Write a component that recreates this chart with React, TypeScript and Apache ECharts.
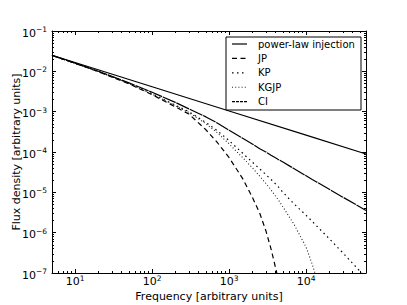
import React, { useEffect, useRef } from 'react';
import * as echarts from 'echarts';

// Frequencies [arbitrary units] at which the model curves were read
const frequency = [5, 10, 20, 50, 100, 200, 300, 500, 700, 1000, 1500, 2000, 2500, 3000, 3500, 4000, 4300, 5000, 7000, 10000, 12000, 13500, 20000, 30000, 45000, 60000];

// Power-law injection (straight line)
const powerLawFreq = [5, 100, 1000, 10000, 60000];
const powerLaw = [2.5e-2, 4.14e-3, 1.04e-3, 2.61e-4, 8.93e-5];

// Model flux densities [arbitrary units]
const jp = [2.48e-2, 1.585e-2, 9.77e-3, 4.9e-3, 2.63e-3, 1.32e-3, 8.71e-4, 3.55e-4, 1.74e-4, 7.24e-5, 2.19e-5, 7.59e-6, 3.02e-6, 1.12e-6, 3.98e-7, 1.38e-7, 7.59e-8, null, null, null, null, null, null, null, null, null];
const kp = [2.48e-2, 1.585e-2, 9.93e-3, 5.07e-3, 2.79e-3, 1.45e-3, 1.0e-3, 5.37e-4, 3.39e-4, 1.91e-4, 9.33e-5, 5.62e-5, 3.8e-5, 2.75e-5, 2.09e-5, 1.62e-5, 1.41e-5, 1.0e-5, 5.13e-6, 2.69e-6, 1.91e-6, 1.51e-6, 7.08e-7, 3.16e-7, 1.38e-7, 7.59e-8];
const kgjp = [2.48e-2, 1.585e-2, 9.89e-3, 5.01e-3, 2.72e-3, 1.41e-3, 9.55e-4, 5.01e-4, 3.02e-4, 1.585e-4, 7.24e-5, 4.07e-5, 2.51e-5, 1.66e-5, 1.15e-5, 8.13e-6, 6.76e-6, 4.37e-6, 1.585e-6, 4.37e-7, 1.66e-7, 7.94e-8, null, null, null, null];
const ci = [2.483e-2, 1.596e-2, 1.005e-2, 5.19e-3, 3.02e-3, 1.7e-3, 1.175e-3, 7.41e-4, 5.25e-4, 3.47e-4, 2.19e-4, 1.585e-4, 1.2e-4, 1.0e-4, 8.32e-5, 7.16e-5, 6.61e-5, 5.62e-5, 3.85e-5, 2.57e-5, 2.09e-5, 1.84e-5, 1.19e-5, 7.59e-6, 4.9e-6, 3.56e-6];

// Axis ranges and tick labels (decade exponents)
const xRange = [5, 60000];
const yRange = [1e-7, 1e-1];
const xTickExponents = [1, 2, 3, 4];
const yTickExponents = [-7, -6, -5, -4, -3, -2, -1];

const legendNames = ['power-law injection', 'JP', 'KP', 'KGJP', 'CI'];

const FONT = 'DejaVu Sans';
const LW = 1.2;
const styles: Record<string, { type: any; color: string; width: number }> = {
  'power-law injection': { type: 'solid', color: '#000', width: LW },
  JP: { type: [5, 3.5], color: '#000', width: LW },
  KP: { type: [1.5, 3.5], color: '#000', width: LW },
  KGJP: { type: [1, 2.2], color: '#222', width: 1.1 },
  CI: { type: [14, 0.8], color: '#000', width: LW },
};
const ciLegendDash = [3, 1];

function minorTicks(lo: number, hi: number) {
  const out: number[] = [];
  for (let n = -8; n <= 5; n++) {
    for (let k = 2; k <= 9; k++) {
      const v = k * Math.pow(10, n);
      if (v >= lo && v <= hi) out.push(Math.log10(v));
    }
  }
  return out;
}

function toPairs(xs: number[], ys: (number | null)[]) {
  const out: number[][] = [];
  xs.forEach((f, i) => {
    const v = ys[i];
    if (v != null) out.push([Math.log10(f), Math.log10(v)]);
  });
  return out;
}

function supLabel(v: number) {
  const e = Math.round(v);
  const s = e < 0 ? '\u2212' + -e : String(e);
  return '{b|10}{s|' + s + '}';
}

const rich = {
  b: { fontSize: 11, fontFamily: FONT, color: '#000', lineHeight: 11, padding: [4, 0, 0, 0] },
  s: { fontSize: 7.5, fontFamily: FONT, color: '#000', lineHeight: 8, verticalAlign: 'top' },
};

function buildOption() {
  const xmin = Math.log10(xRange[0]);
  const xmax = Math.log10(xRange[1]);
  const ymin = Math.log10(yRange[0]);
  const ymax = Math.log10(yRange[1]);
  const xMinor = minorTicks(xRange[0], xRange[1]);
  const yMinor = minorTicks(yRange[0], yRange[1]);

  const mkAxis = (position: string, min: number, max: number, ticks: number[], len: number, showLine: boolean, label?: any, name?: any) => ({
    type: 'value',
    position,
    min,
    max,
    splitLine: { show: false },
    axisLine: { show: showLine, onZero: false, lineStyle: { color: '#000', width: 1 } },
    axisTick: { show: true, inside: true, length: len, customValues: ticks, lineStyle: { color: '#000', width: 1 } },
    axisLabel: label || { show: false },
    ...(name || {}),
  });

  const xLabel = {
    show: true,
    customValues: xTickExponents,
    formatter: supLabel,
    rich,
    margin: 1,
  };
  const yLabel = {
    show: true,
    customValues: yTickExponents,
    formatter: supLabel,
    rich,
    margin: 5,
  };

  const xName = {
    name: 'Frequency [arbitrary units]',
    nameLocation: 'middle',
    nameGap: 18,
    nameMoveOverlap: false,
    nameTextStyle: { fontFamily: FONT, fontSize: 11, color: '#000', verticalAlign: 'top' },
  };
  const yName = {
    name: 'Flux density [arbitrary units]',
    nameLocation: 'middle',
    nameGap: 30,
    nameMoveOverlap: false,
    nameTextStyle: { fontFamily: FONT, fontSize: 11, color: '#000' },
  };

  const series = [
    { name: 'power-law injection', data: toPairs(powerLawFreq, powerLaw) },
    { name: 'JP', data: toPairs(frequency, jp) },
    { name: 'KP', data: toPairs(frequency, kp) },
    { name: 'KGJP', data: toPairs(frequency, kgjp) },
    { name: 'CI', data: toPairs(frequency, ci) },
  ].map((s) => ({
    type: 'line',
    name: s.name,
    data: s.data,
    xAxisIndex: 0,
    yAxisIndex: 0,
    symbol: 'none',
    showSymbol: false,
    clip: true,
    lineStyle: { ...styles[s.name] },
  }));

  const legendLeft = 226;
  const legendTop = 37;
  const rowH = 14.4;
  const legendGraphics: any[] = [
    {
      type: 'rect',
      shape: { x: legendLeft, y: legendTop, width: 135, height: 73 },
      style: { fill: '#fff', stroke: '#000', lineWidth: 1 },
      z: 100,
    },
  ];
  legendNames.forEach((n, i) => {
    const y = legendTop + 7 + i * rowH;
    const st = styles[n];
    const dash = n === 'CI' ? ciLegendDash : st.type === 'solid' ? null : st.type;
    legendGraphics.push({
      type: 'line',
      shape: { x1: legendLeft + 6, y1: y, x2: legendLeft + 21, y2: y },
      style: { stroke: st.color, lineWidth: st.width, lineDash: dash },
      z: 101,
    });
    legendGraphics.push({
      type: 'text',
      x: legendLeft + 32,
      y,
      style: { text: n, fontFamily: FONT, fontSize: 10, fill: '#000', verticalAlign: 'middle', align: 'left' },
      z: 101,
    });
  });

  return {
    animation: false,
    backgroundColor: '#fff',
    grid: { left: 52, right: 41, top: 31, bottom: 32, containLabel: false, outerBoundsMode: 'none' },
    xAxis: [
      mkAxis('bottom', xmin, xmax, xTickExponents, 4, true, xLabel, xName),
      mkAxis('bottom', xmin, xmax, xMinor, 2, false),
      mkAxis('top', xmin, xmax, xTickExponents, 4, true),
      mkAxis('top', xmin, xmax, xMinor, 2, false),
    ],
    yAxis: [
      mkAxis('left', ymin, ymax, yTickExponents, 4, true, yLabel, yName),
      mkAxis('left', ymin, ymax, yMinor, 2, false),
      mkAxis('right', ymin, ymax, yTickExponents, 4, true),
      mkAxis('right', ymin, ymax, yMinor, 2, false),
    ],
    series,
    graphic: legendGraphics,
  };
}

export default function App() {
  const ref = useRef<HTMLDivElement>(null);
  useEffect(() => {
    if (!ref.current) return;
    const chart = echarts.init(ref.current, undefined, { renderer: 'svg' });
    chart.setOption(buildOption() as any);
    return () => chart.dispose();
  }, []);
  return (
    <div
      ref={ref}
      style={{ position: 'fixed', left: 0, top: 0, width: 407, height: 305, background: '#fff' }}
    />
  );
}
